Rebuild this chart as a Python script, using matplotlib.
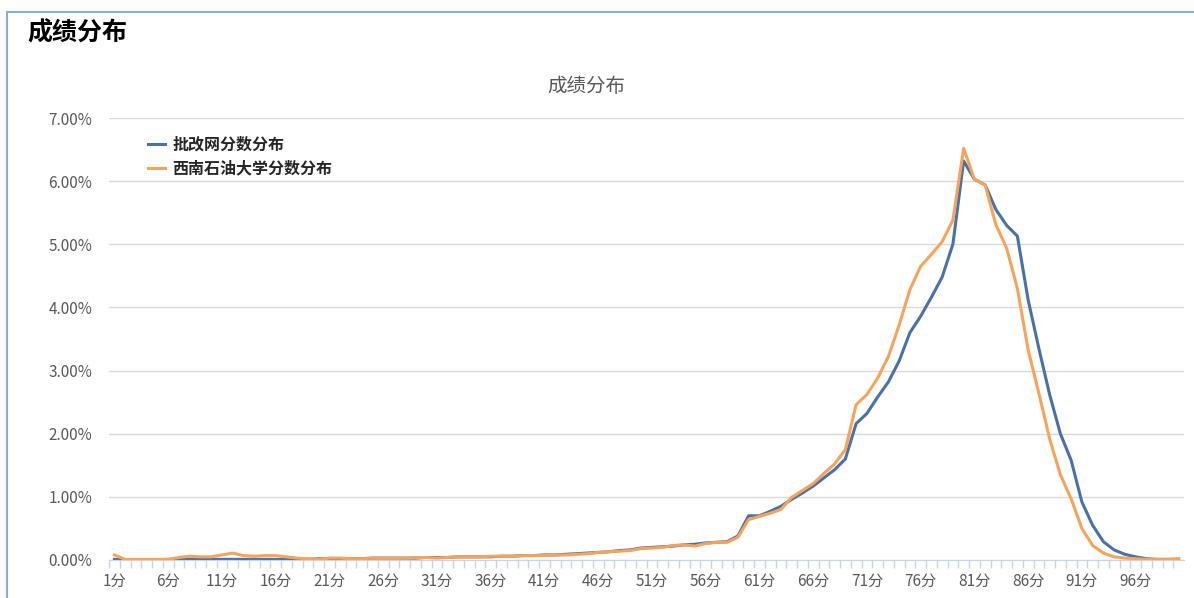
import matplotlib
matplotlib.use('Agg')
import matplotlib.pyplot as plt
from matplotlib.lines import Line2D
from matplotlib.ticker import FuncFormatter

plt.rcParams['font.family'] = ['Noto Sans CJK SC', 'DejaVu Sans']

# 分数 1~100
scores = list(range(1, 101))
x_labels = ['%d分' % s for s in scores]

# 批改网分数分布 (%)
pigai = [0.01, 0.00, 0.00, 0.00, 0.00, 0.01, 0.01, 0.01, 0.01, 0.01,
         0.01, 0.01, 0.01, 0.01, 0.01, 0.01, 0.01, 0.01, 0.01, 0.02,
         0.02, 0.02, 0.02, 0.02, 0.03, 0.03, 0.03, 0.03, 0.03, 0.04,
         0.04, 0.04, 0.05, 0.05, 0.05, 0.05, 0.06, 0.06, 0.07, 0.07,
         0.08, 0.08, 0.09, 0.10, 0.11, 0.12, 0.13, 0.15, 0.16, 0.19,
         0.20, 0.21, 0.22, 0.24, 0.25, 0.27, 0.28, 0.29, 0.38, 0.70,
         0.70, 0.77, 0.85, 0.96, 1.06, 1.17, 1.30, 1.43, 1.60, 2.16,
         2.32, 2.58, 2.82, 3.15, 3.60, 3.86, 4.16, 4.48, 5.00, 6.32,
         6.03, 5.94, 5.55, 5.30, 5.13, 4.12, 3.35, 2.62, 2.00, 1.58,
         0.92, 0.55, 0.29, 0.16, 0.09, 0.05, 0.02, 0.01, 0.01, 0.01]

# 西南石油大学分数分布 (%)
swpu = [0.08, 0.01, 0.01, 0.01, 0.01, 0.01, 0.04, 0.06, 0.05, 0.05,
        0.08, 0.11, 0.07, 0.06, 0.07, 0.07, 0.05, 0.03, 0.02, 0.01,
        0.03, 0.03, 0.02, 0.02, 0.03, 0.03, 0.03, 0.03, 0.04, 0.04,
        0.03, 0.04, 0.05, 0.05, 0.05, 0.06, 0.06, 0.06, 0.07, 0.07,
        0.07, 0.08, 0.08, 0.09, 0.10, 0.12, 0.13, 0.14, 0.15, 0.18,
        0.19, 0.20, 0.23, 0.24, 0.22, 0.26, 0.28, 0.28, 0.36, 0.64,
        0.69, 0.74, 0.80, 0.99, 1.10, 1.21, 1.37, 1.52, 1.75, 2.46,
        2.62, 2.88, 3.22, 3.72, 4.28, 4.65, 4.84, 5.04, 5.38, 6.52,
        6.03, 5.94, 5.31, 4.94, 4.30, 3.33, 2.64, 1.92, 1.35, 0.97,
        0.50, 0.23, 0.11, 0.05, 0.03, 0.02, 0.01, 0.01, 0.01, 0.02]

fig = plt.figure(figsize=(11.94, 5.98), dpi=100)
ax = fig.add_axes([109 / 1194, 38 / 598, 1075 / 1194, 442 / 598])

ax.plot(scores, pigai, color='#4a71a8', lw=2.2, label='批改网分数分布')
ax.plot(scores, swpu, color='#f6a45c', lw=2.2, label='西南石油大学分数分布')

ax.set_ylim(0, 7)
ax.set_xlim(0.5, 100.5)
ax.set_yticks(range(0, 8))
ax.yaxis.set_major_formatter(FuncFormatter(lambda v, p: '%.2f%%' % v))
ax.grid(axis='y', color='#d9d9d9', lw=1)
ax.set_axisbelow(True)

# x轴: 每5分标一次, 刻度在格子边界
ax.set_xticks(scores[::5])
ax.set_xticklabels(x_labels[::5])
ax.set_xticks([s + 0.5 for s in range(0, 100)], minor=True)
ax.tick_params(axis='x', which='major', length=0, pad=9, labelsize=11, labelcolor='#595959')
ax.tick_params(axis='x', which='minor', length=6, color='#c5d5ea', width=1)
ax.tick_params(axis='y', length=0, pad=12, labelsize=11, labelcolor='#595959')

for s in ['left', 'right', 'top']:
    ax.spines[s].set_visible(False)
ax.spines['bottom'].set_color('#c5d5ea')

leg = ax.legend(loc='upper left', bbox_to_anchor=(0.036, 0.958), frameon=False,
                borderpad=0, borderaxespad=0, handlelength=1.1, handletextpad=0.45,
                labelspacing=0.5, prop={'size': 11.5, 'weight': 'bold'})
for t in leg.get_texts():
    t.set_color('#262626')

# 标题
fig.text(586 / 1194, 1 - 86 / 598, '成绩分布', ha='center', va='center', fontsize=14, color='#595959')
fig.text(27 / 1194, 1 - 33 / 598, '成绩分布', ha='left', va='center', fontsize=18, fontweight='bold', color='black')

# 外边框(左, 上)
fig.add_artist(Line2D([7 / 1194, 7 / 1194], [0, 1 - 12 / 598], color='#8eaadb', lw=1.5))
fig.add_artist(Line2D([7 / 1194, 1], [1 - 12 / 598, 1 - 12 / 598], color='#8eaadb', lw=1.5))

fig.savefig('out.png', dpi=100)
